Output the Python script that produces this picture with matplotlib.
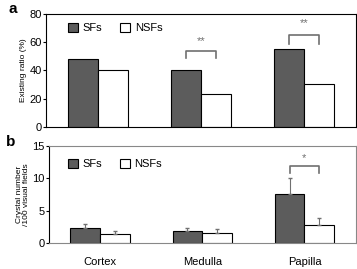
import numpy as np
import matplotlib
matplotlib.use('Agg')
import matplotlib.pyplot as plt

plt.rcParams['font.family'] = ['Liberation Sans', 'DejaVu Sans']

# data
regions = ['Cortex', 'Medulla', 'Papilla']
ratio_sf = [48, 40.5, 55.5]
ratio_nsf = [40.5, 23, 30.5]
crystal_sf = [2.4, 1.9, 7.6]
crystal_sf_err = [0.6, 0.45, 2.4]
crystal_nsf = [1.5, 1.55, 2.75]
crystal_nsf_err = [0.4, 0.65, 1.1]
yticks_a = [0, 20, 40, 60, 80]
yticks_b = [0, 5, 10, 15]

sf_color = '#5c5c5c'
w = 0.29
x = np.arange(len(regions))

fig = plt.figure(figsize=(3.57, 2.69), dpi=100)
ax1 = fig.add_axes([0.129, 0.528, 0.868, 0.420])
ax2 = fig.add_axes([0.137, 0.0955, 0.859, 0.363])


def bracket(ax, i, y, drop, label):
    x0, x1 = x[i] - w / 2, x[i] + w / 2
    ax.plot([x0, x0, x1, x1], [y - drop, y, y, y - drop], color='#707070', lw=1.2,
            clip_on=False)
    ax.text(x[i], y + drop * 1.4, label, ha='center', va='center', fontsize=8,
            color='#707070')


# panel a
ax1.bar(x - w / 2, ratio_sf, w, color=sf_color, edgecolor='black', lw=0.8, label='SFs')
ax1.bar(x + w / 2, ratio_nsf, w, color='white', edgecolor='black', lw=0.8, label='NSFs')
ax1.set_xlim(-0.5, 2.5)
ax1.set_ylim(0, 80)
ax1.set_yticks(yticks_a)
ax1.set_xticks([])
ax1.set_ylabel('Existing ratio (%)', fontsize=6, labelpad=2)
ax1.tick_params(axis='y', labelsize=8, length=2, pad=1)
bracket(ax1, 1, 53.5, 5, '**')
bracket(ax1, 2, 65, 6, '**')
ax1.legend(loc='upper left', bbox_to_anchor=(0.04, 1.01), ncol=2, frameon=False,
           fontsize=8, handlelength=0.9, handleheight=0.9, handletextpad=0.4,
           columnspacing=1.6)
ax1.text(-0.12, 1.04, 'a', transform=ax1.transAxes, fontsize=11, fontweight='bold',
         va='center')

# panel b
ax2.bar(x - w / 2, crystal_sf, w, yerr=[np.zeros(3), crystal_sf_err], color=sf_color,
        edgecolor='black', lw=0.8, error_kw=dict(ecolor='#707070', lw=0.8, capsize=1.5),
        label='SFs')
ax2.bar(x + w / 2, crystal_nsf, w, yerr=[np.zeros(3), crystal_nsf_err], color='white',
        edgecolor='black', lw=0.8, error_kw=dict(ecolor='#707070', lw=0.8, capsize=1.5),
        label='NSFs')
ax2.set_xlim(-0.5, 2.5)
ax2.set_ylim(0, 15)
ax2.set_yticks(yticks_b)
ax2.set_xticks(x)
ax2.set_xticklabels(regions, fontsize=8)
ax2.tick_params(axis='x', length=0, pad=10)
ax2.tick_params(axis='y', labelsize=8, length=2, pad=1)
ax2.set_ylabel('Crystal number\n/100 visual fields', fontsize=6, labelpad=2,
               linespacing=1.0)
for s in ['top', 'right', 'bottom']:
    ax2.spines[s].set_color('#888888')
bracket(ax2, 2, 11.8, 0.95, '*')
ax2.legend(loc='upper left', bbox_to_anchor=(0.03, 0.97), ncol=2, frameon=False,
           fontsize=8, handlelength=0.9, handleheight=0.9, handletextpad=0.4,
           columnspacing=1.6)
ax2.text(-0.14, 1.04, 'b', transform=ax2.transAxes, fontsize=11, fontweight='bold',
         va='center')

fig.savefig('out.png', dpi=100)
